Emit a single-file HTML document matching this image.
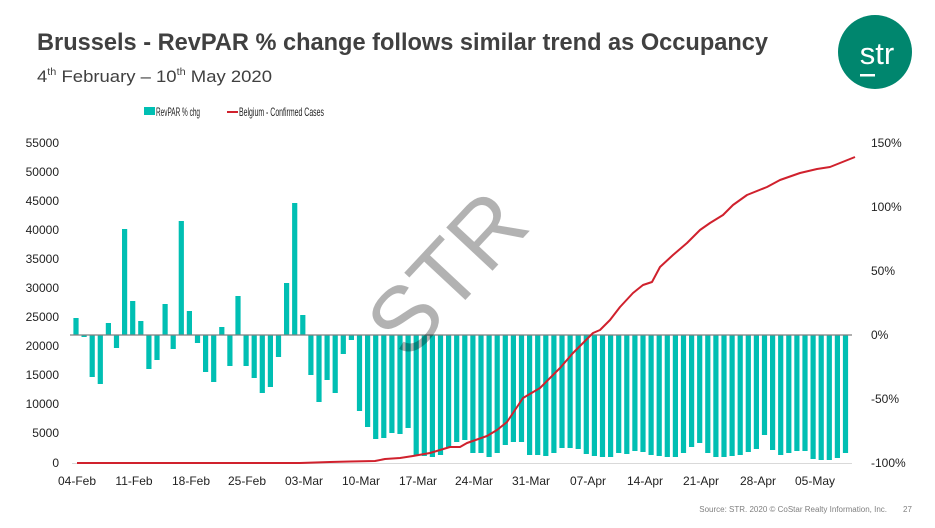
<!DOCTYPE html>
<html><head><meta charset="utf-8"><style>
html,body{margin:0;padding:0;background:#fff;}
svg{display:block;font-family:"Liberation Sans",sans-serif;}
</style></head><body>
<svg width="935" height="528" viewBox="0 0 935 528" xmlns="http://www.w3.org/2000/svg">
<text x="37" y="50" font-size="24" font-weight="bold" fill="#404040" textLength="731" lengthAdjust="spacingAndGlyphs">Brussels - RevPAR % change follows similar trend as Occupancy</text>
<text x="37" y="82" font-size="17" fill="#404040" textLength="235" lengthAdjust="spacingAndGlyphs">4<tspan font-size="10" dy="-7">th</tspan><tspan dy="7"> February – 10</tspan><tspan font-size="10" dy="-7">th</tspan><tspan dy="7"> May 2020</tspan></text>
<circle cx="875" cy="52" r="37" fill="#00866e"/>
<text x="877" y="64" font-size="31" fill="#fff" text-anchor="middle">str</text>
<rect x="860" y="74" width="15" height="2.5" fill="#fff"/>
<rect x="144" y="107" width="11" height="8" fill="#00bfb3"/>
<text x="156" y="116" font-size="12" fill="#222" textLength="44" lengthAdjust="spacingAndGlyphs">RevPAR % chg</text>
<rect x="227" y="111" width="11" height="2" fill="#d0212d"/>
<text x="239" y="116" font-size="12" fill="#222" textLength="85" lengthAdjust="spacingAndGlyphs">Belgium - Confirmed Cases</text>
<g font-size="12" fill="#222" text-anchor="end">
<text x="59" y="147">55000</text><text x="59" y="176">50000</text><text x="59" y="205">45000</text><text x="59" y="234">40000</text><text x="59" y="263">35000</text><text x="59" y="292">30000</text><text x="59" y="321">25000</text><text x="59" y="350">20000</text><text x="59" y="379">15000</text><text x="59" y="408">10000</text><text x="59" y="437">5000</text><text x="59" y="467">0</text>
</g>
<g font-size="12" fill="#222">
<text x="871" y="147">150%</text><text x="871" y="211">100%</text><text x="871" y="275">50%</text><text x="871" y="339">0%</text><text x="871" y="403">-50%</text><text x="871" y="467">-100%</text>
</g>
<g font-size="12" fill="#222" text-anchor="middle">
<text x="77" y="485">04-Feb</text><text x="134" y="485">11-Feb</text><text x="191" y="485">18-Feb</text><text x="247" y="485">25-Feb</text><text x="304" y="485">03-Mar</text><text x="361" y="485">10-Mar</text><text x="418" y="485">17-Mar</text><text x="474" y="485">24-Mar</text><text x="531" y="485">31-Mar</text><text x="588" y="485">07-Apr</text><text x="645" y="485">14-Apr</text><text x="701" y="485">21-Apr</text><text x="758" y="485">28-Apr</text><text x="815" y="485">05-May</text>
</g>
<line x1="72" y1="463.5" x2="852" y2="463.5" stroke="#d9d9d9" stroke-width="1"/>
<path fill="#00bfb3" d="M73.4 318h5.2v17h-5.2z M81.5 335h5.2v2h-5.2z M89.6 335h5.2v42h-5.2z M97.7 335h5.2v49h-5.2z M105.8 323h5.2v12h-5.2z M113.9 335h5.2v13h-5.2z M122 229h5.2v106h-5.2z M130.1 301h5.2v34h-5.2z M138.2 321h5.2v14h-5.2z M146.3 335h5.2v34h-5.2z M154.4 335h5.2v25h-5.2z M162.5 304h5.2v31h-5.2z M170.6 335h5.2v14h-5.2z M178.7 221h5.2v114h-5.2z M186.8 311h5.2v24h-5.2z M194.9 335h5.2v8h-5.2z M203 335h5.2v37h-5.2z M211.1 335h5.2v47h-5.2z M219.2 327h5.2v8h-5.2z M227.3 335h5.2v31h-5.2z M235.4 296h5.2v39h-5.2z M243.5 335h5.2v31h-5.2z M251.6 335h5.2v43h-5.2z M259.7 335h5.2v58h-5.2z M267.8 335h5.2v52h-5.2z M275.9 335h5.2v22h-5.2z M284 283h5.2v52h-5.2z M292.1 203h5.2v132h-5.2z M300.2 315h5.2v20h-5.2z M308.3 335h5.2v40h-5.2z M316.4 335h5.2v67h-5.2z M324.5 335h5.2v45h-5.2z M332.6 335h5.2v58h-5.2z M340.7 335h5.2v19h-5.2z M348.8 335h5.2v5h-5.2z M356.9 335h5.2v76h-5.2z M365 335h5.2v92h-5.2z M373.1 335h5.2v104h-5.2z M381.2 335h5.2v103h-5.2z M389.3 335h5.2v98h-5.2z M397.4 335h5.2v99h-5.2z M405.5 335h5.2v93h-5.2z M413.6 335h5.2v120h-5.2z M421.7 335h5.2v121h-5.2z M429.8 335h5.2v122h-5.2z M437.9 335h5.2v120h-5.2z M446 335h5.2v112h-5.2z M454.1 335h5.2v107h-5.2z M462.2 335h5.2v105h-5.2z M470.3 335h5.2v118h-5.2z M478.4 335h5.2v118h-5.2z M486.5 335h5.2v122h-5.2z M494.6 335h5.2v118h-5.2z M502.7 335h5.2v110h-5.2z M510.8 335h5.2v107h-5.2z M518.9 335h5.2v107h-5.2z M527 335h5.2v120h-5.2z M535.1 335h5.2v120h-5.2z M543.2 335h5.2v121h-5.2z M551.3 335h5.2v118h-5.2z M559.4 335h5.2v113h-5.2z M567.5 335h5.2v113h-5.2z M575.6 335h5.2v114h-5.2z M583.7 335h5.2v119h-5.2z M591.8 335h5.2v121h-5.2z M599.9 335h5.2v122h-5.2z M608 335h5.2v122h-5.2z M616.1 335h5.2v118h-5.2z M624.2 335h5.2v119h-5.2z M632.3 335h5.2v116h-5.2z M640.4 335h5.2v117h-5.2z M648.5 335h5.2v120h-5.2z M656.6 335h5.2v121h-5.2z M664.7 335h5.2v122h-5.2z M672.8 335h5.2v122h-5.2z M680.9 335h5.2v118h-5.2z M689 335h5.2v112h-5.2z M697.1 335h5.2v108h-5.2z M705.2 335h5.2v118h-5.2z M713.3 335h5.2v122h-5.2z M721.4 335h5.2v122h-5.2z M729.5 335h5.2v121h-5.2z M737.6 335h5.2v120h-5.2z M745.7 335h5.2v117h-5.2z M753.8 335h5.2v114h-5.2z M761.9 335h5.2v100h-5.2z M770 335h5.2v115h-5.2z M778.1 335h5.2v120h-5.2z M786.2 335h5.2v118h-5.2z M794.3 335h5.2v116h-5.2z M802.4 335h5.2v116h-5.2z M810.5 335h5.2v124h-5.2z M818.6 335h5.2v125h-5.2z M826.7 335h5.2v125h-5.2z M834.8 335h5.2v123h-5.2z M842.9 335h5.2v118h-5.2z"/>
<line x1="70" y1="335" x2="852" y2="335" stroke="#7f7f7f" stroke-width="1.3"/>
<polyline fill="none" stroke="#d0212d" stroke-width="2" stroke-linejoin="round" points="77,463 300,463 330,462 350,461.5 375,461 385,459 400,458 413,456 430,453 440,450 450,447 460,447 467,443 487,436 497,430 507,422 515,410 523,398 540,388 560,368 573,353 593,333 600,330 610,320 620,307 633,293 643,285 652,282 660,267 673,255 687,243 700,230 710,223 723,215 733,205 747,195 767,187 780,180 800,173 817,169 830,167 840,163 855,157"/>
<text x="0" y="0" font-size="92" fill="#000" fill-opacity="0.3" text-anchor="middle" transform="translate(470,295) rotate(-47)">STR</text>
<text x="887" y="512" font-size="8" fill="#808080" text-anchor="end">Source: STR. 2020 © CoStar Realty Information, Inc.</text>
<text x="903" y="512" font-size="8" fill="#808080">27</text>
</svg>
</body></html>
